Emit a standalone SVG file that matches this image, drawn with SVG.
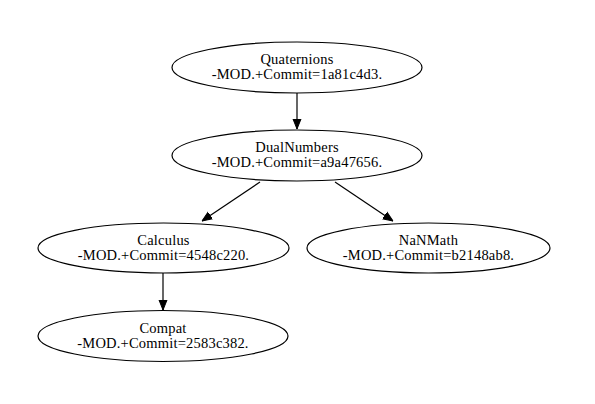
<svg xmlns="http://www.w3.org/2000/svg" width="595" height="404" viewBox="0 0 595 404">
<style>
ellipse{fill:none;stroke:#000;stroke-width:1.2}
text{font-family:'Liberation Serif','Times New Roman',serif;font-size:14.5px;letter-spacing:0.2px;fill:#000;text-anchor:middle}
.edge{stroke:#000;stroke-width:1.2;fill:none}
</style>
<defs>
<marker id="arr" markerWidth="10" markerHeight="10" refX="10" refY="5" orient="auto" markerUnits="userSpaceOnUse">
<path d="M0,1 L10,5 L0,9 Z" fill="#000" stroke="#000"/>
</marker>
</defs>
<rect width="595" height="404" fill="#fff"/>
<g id="connectors">
<line class="edge" x1="297" y1="93" x2="297" y2="129" marker-end="url(#arr)"/>
<line class="edge" x1="260" y1="182" x2="202" y2="221" marker-end="url(#arr)"/>
<line class="edge" x1="335" y1="182" x2="393" y2="221" marker-end="url(#arr)"/>
<line class="edge" x1="163" y1="273" x2="163" y2="310" marker-end="url(#arr)"/>
</g>
<g id="Quaternions" class="node">
<ellipse cx="297" cy="67.5" rx="125" ry="25.5"/>
<text x="297" y="64">Quaternions</text>
<text x="297" y="79">-MOD.+Commit=1a81c4d3.</text>
</g>
<g id="DualNumbers" class="node">
<ellipse cx="297" cy="155.5" rx="125" ry="25.5"/>
<text x="297" y="152">DualNumbers</text>
<text x="297" y="167">-MOD.+Commit=a9a47656.</text>
</g>
<g id="Calculus" class="node">
<ellipse cx="163.5" cy="248" rx="125.5" ry="25"/>
<text x="163.5" y="244.5">Calculus</text>
<text x="163.5" y="259.5">-MOD.+Commit=4548c220.</text>
</g>
<g id="NaNMath" class="node">
<ellipse cx="428.5" cy="248" rx="121.5" ry="25"/>
<text x="428.5" y="244.5">NaNMath</text>
<text x="428.5" y="259.5">-MOD.+Commit=b2148ab8.</text>
</g>
<g id="Compat" class="node">
<ellipse cx="163" cy="336" rx="125" ry="25.5"/>
<text x="163" y="332.5">Compat</text>
<text x="163" y="347.5">-MOD.+Commit=2583c382.</text>
</g>
</svg>
